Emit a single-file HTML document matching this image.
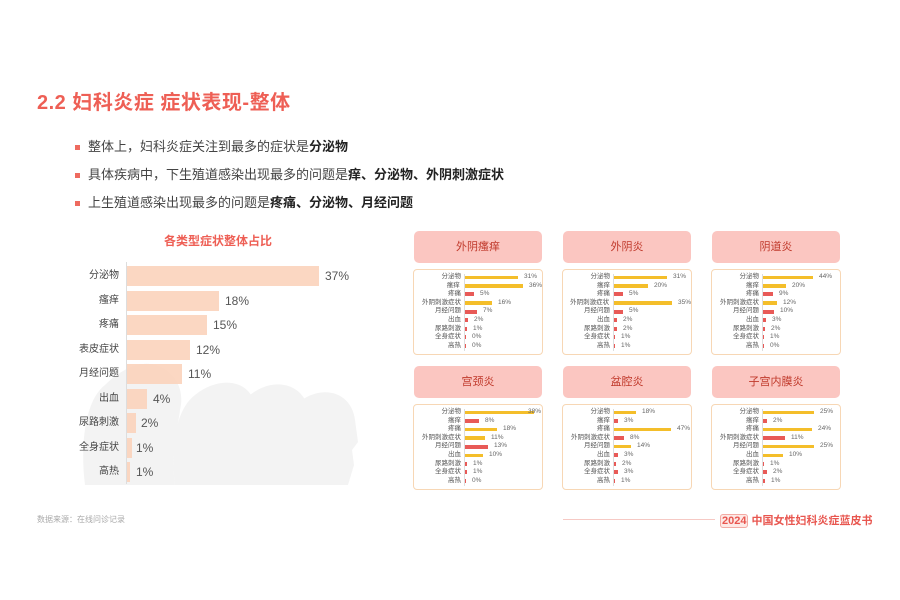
<!DOCTYPE html>
<html><head><meta charset="utf-8"><style>
*{margin:0;padding:0;box-sizing:border-box}
body{width:900px;height:600px;background:#fff;position:relative;overflow:hidden;font-family:"Liberation Sans","Noto Sans CJK SC",sans-serif;color:#444}
.a{position:absolute}
h1{position:absolute;left:37px;top:86px;font-size:20px;color:#ee5f55;font-weight:bold;letter-spacing:0.5px}
.bl{position:absolute;left:75px;font-size:13px;color:#444}
.bl i{display:inline-block;width:5px;height:5px;background:#ee6a5f;margin-right:8px;vertical-align:middle}
.bl b{color:#222}
.mr{position:absolute;left:0;height:20px;line-height:20px;font-size:10px}
.mr .l{position:absolute;right:781px;width:80px;text-align:right;color:#444}
.mr .b{position:absolute;left:127px;top:0;height:20px;background:#fbd3bb;opacity:.9}
.mr .v{position:absolute;font-size:12px;color:#555}
.hd{position:absolute;width:128px;height:32px;background:#fbc6c1;border-radius:5px;text-align:center;line-height:32px;font-size:11px;color:#c0392b}
.bx{position:absolute;width:130px;height:86px;border:1.5px solid #f7d7b5;border-radius:4px;padding-top:3px}
.bx .ax{position:absolute;left:50px;top:4px;height:77px;border-left:1px solid #ddd}
.rw{display:flex;align-items:center;height:8.6px;font-size:6.5px;line-height:8.6px;color:#555;white-space:nowrap}
.rw .l{width:47px;text-align:right;margin-right:4px}
.rw .y{height:3.5px;background:#f4be2a}
.rw .r{height:4px;background:#e85a57}
.rw .v{margin-left:6px;color:#666}
</style></head><body>
<h1>2.2 妇科炎症 症状表现-整体</h1>
<div class="bl" style="top:136px"><i></i>整体上，妇科炎症关注到最多的症状是<b>分泌物</b></div>
<div class="bl" style="top:164px"><i></i>具体疾病中，下生殖道感染出现最多的问题是<b>痒、分泌物、外阴刺激症状</b></div>
<div class="bl" style="top:192px"><i></i>上生殖道感染出现最多的问题是<b>疼痛、分泌物、月经问题</b></div>

<div class="a" style="left:130px;top:232px;width:176px;text-align:center;font-size:12px;font-weight:bold;color:#ee5f55">各类型症状整体占比</div>

<svg class="a" style="left:80px;top:350px" width="280" height="135">
<g fill="#f3f3f3">
<path d="M5 135 C0 95 5 50 25 35 C40 20 60 10 75 15 C95 20 105 40 100 60 C98 80 90 95 95 135Z"/>
<path d="M95 135 C90 100 95 60 115 45 C140 25 170 30 175 55 L178 80 L170 90 L172 110 L160 135Z"/>
<path d="M150 135 C145 100 150 60 170 45 C195 25 225 35 228 60 L232 85 L224 95 L226 112 L215 135Z"/>
<path d="M205 135 C200 100 205 60 225 48 C248 35 272 45 275 70 L278 92 L272 100 L274 115 L268 135Z"/>
</g></svg>
<div class="a" style="left:126px;top:262px;height:222px;border-left:1px solid #ddd"></div>

<div class="mr" style="top:266px;width:900px"><span class="l">分泌物</span><span class="b" style="width:192px"></span><span class="v" style="left:325px">37%</span></div>
<div class="mr" style="top:291px;width:900px"><span class="l">瘙痒</span><span class="b" style="width:92px"></span><span class="v" style="left:225px">18%</span></div>
<div class="mr" style="top:315px;width:900px"><span class="l">疼痛</span><span class="b" style="width:80px"></span><span class="v" style="left:213px">15%</span></div>
<div class="mr" style="top:340px;width:900px"><span class="l">表皮症状</span><span class="b" style="width:63px"></span><span class="v" style="left:196px">12%</span></div>
<div class="mr" style="top:364px;width:900px"><span class="l">月经问题</span><span class="b" style="width:55px"></span><span class="v" style="left:188px">11%</span></div>
<div class="mr" style="top:389px;width:900px"><span class="l">出血</span><span class="b" style="width:20px"></span><span class="v" style="left:153px">4%</span></div>
<div class="mr" style="top:413px;width:900px"><span class="l">尿路刺激</span><span class="b" style="width:9px"></span><span class="v" style="left:141px">2%</span></div>
<div class="mr" style="top:438px;width:900px"><span class="l">全身症状</span><span class="b" style="width:5px"></span><span class="v" style="left:136px">1%</span></div>
<div class="mr" style="top:462px;width:900px"><span class="l">高热</span><span class="b" style="width:3px"></span><span class="v" style="left:136px">1%</span></div>

<div class="hd" style="left:414px;top:231px">外阴瘙痒</div>
<div class="hd" style="left:563px;top:231px">外阴炎</div>
<div class="hd" style="left:712px;top:231px">阴道炎</div>
<div class="hd" style="left:414px;top:366px">宫颈炎</div>
<div class="hd" style="left:563px;top:366px">盆腔炎</div>
<div class="hd" style="left:712px;top:366px">子宫内膜炎</div>

<div class="bx" style="left:413px;top:269px"><div class="ax"></div>
<div class="rw"><span class="l">分泌物</span><span class="y" style="width:53px"></span><span class="v">31%</span></div>
<div class="rw"><span class="l">瘙痒</span><span class="y" style="width:61px"></span><span class="v">36%</span></div>
<div class="rw"><span class="l">疼痛</span><span class="r" style="width:9px"></span><span class="v">5%</span></div>
<div class="rw"><span class="l">外阴刺激症状</span><span class="y" style="width:27px"></span><span class="v">16%</span></div>
<div class="rw"><span class="l">月经问题</span><span class="r" style="width:12px"></span><span class="v">7%</span></div>
<div class="rw"><span class="l">出血</span><span class="r" style="width:3px"></span><span class="v">2%</span></div>
<div class="rw"><span class="l">尿路刺激</span><span class="r" style="width:2px"></span><span class="v">1%</span></div>
<div class="rw"><span class="l">全身症状</span><span class="r" style="width:1px"></span><span class="v">0%</span></div>
<div class="rw"><span class="l">高热</span><span class="r" style="width:1px"></span><span class="v">0%</span></div>
</div>

<div class="bx" style="left:562px;top:269px"><div class="ax"></div>
<div class="rw"><span class="l">分泌物</span><span class="y" style="width:53px"></span><span class="v">31%</span></div>
<div class="rw"><span class="l">瘙痒</span><span class="y" style="width:34px"></span><span class="v">20%</span></div>
<div class="rw"><span class="l">疼痛</span><span class="r" style="width:9px"></span><span class="v">5%</span></div>
<div class="rw"><span class="l">外阴刺激症状</span><span class="y" style="width:60px"></span><span class="v">35%</span></div>
<div class="rw"><span class="l">月经问题</span><span class="r" style="width:9px"></span><span class="v">5%</span></div>
<div class="rw"><span class="l">出血</span><span class="r" style="width:3px"></span><span class="v">2%</span></div>
<div class="rw"><span class="l">尿路刺激</span><span class="r" style="width:3px"></span><span class="v">2%</span></div>
<div class="rw"><span class="l">全身症状</span><span class="r" style="width:1px"></span><span class="v">1%</span></div>
<div class="rw"><span class="l">高热</span><span class="r" style="width:1px"></span><span class="v">1%</span></div>
</div>

<div class="bx" style="left:711px;top:269px"><div class="ax"></div>
<div class="rw"><span class="l">分泌物</span><span class="y" style="width:50px"></span><span class="v">44%</span></div>
<div class="rw"><span class="l">瘙痒</span><span class="y" style="width:23px"></span><span class="v">20%</span></div>
<div class="rw"><span class="l">疼痛</span><span class="r" style="width:10px"></span><span class="v">9%</span></div>
<div class="rw"><span class="l">外阴刺激症状</span><span class="y" style="width:14px"></span><span class="v">12%</span></div>
<div class="rw"><span class="l">月经问题</span><span class="r" style="width:11px"></span><span class="v">10%</span></div>
<div class="rw"><span class="l">出血</span><span class="r" style="width:3px"></span><span class="v">3%</span></div>
<div class="rw"><span class="l">尿路刺激</span><span class="r" style="width:2px"></span><span class="v">2%</span></div>
<div class="rw"><span class="l">全身症状</span><span class="r" style="width:1px"></span><span class="v">1%</span></div>
<div class="rw"><span class="l">高热</span><span class="r" style="width:1px"></span><span class="v">0%</span></div>
</div>

<div class="bx" style="left:413px;top:404px"><div class="ax"></div>
<div class="rw"><span class="l">分泌物</span><span class="y" style="width:69px"></span><span class="v" style="margin-left:-6px">38%</span></div>
<div class="rw"><span class="l">瘙痒</span><span class="r" style="width:14px"></span><span class="v">8%</span></div>
<div class="rw"><span class="l">疼痛</span><span class="y" style="width:32px"></span><span class="v">18%</span></div>
<div class="rw"><span class="l">外阴刺激症状</span><span class="y" style="width:20px"></span><span class="v">11%</span></div>
<div class="rw"><span class="l">月经问题</span><span class="r" style="width:23px"></span><span class="v">13%</span></div>
<div class="rw"><span class="l">出血</span><span class="y" style="width:18px"></span><span class="v">10%</span></div>
<div class="rw"><span class="l">尿路刺激</span><span class="r" style="width:2px"></span><span class="v">1%</span></div>
<div class="rw"><span class="l">全身症状</span><span class="r" style="width:2px"></span><span class="v">1%</span></div>
<div class="rw"><span class="l">高热</span><span class="r" style="width:1px"></span><span class="v">0%</span></div>
</div>

<div class="bx" style="left:562px;top:404px"><div class="ax"></div>
<div class="rw"><span class="l">分泌物</span><span class="y" style="width:22px"></span><span class="v">18%</span></div>
<div class="rw"><span class="l">瘙痒</span><span class="r" style="width:4px"></span><span class="v">3%</span></div>
<div class="rw"><span class="l">疼痛</span><span class="y" style="width:57px"></span><span class="v">47%</span></div>
<div class="rw"><span class="l">外阴刺激症状</span><span class="r" style="width:10px"></span><span class="v">8%</span></div>
<div class="rw"><span class="l">月经问题</span><span class="y" style="width:17px"></span><span class="v">14%</span></div>
<div class="rw"><span class="l">出血</span><span class="r" style="width:4px"></span><span class="v">3%</span></div>
<div class="rw"><span class="l">尿路刺激</span><span class="r" style="width:2px"></span><span class="v">2%</span></div>
<div class="rw"><span class="l">全身症状</span><span class="r" style="width:4px"></span><span class="v">3%</span></div>
<div class="rw"><span class="l">高热</span><span class="r" style="width:1px"></span><span class="v">1%</span></div>
</div>

<div class="bx" style="left:711px;top:404px"><div class="ax"></div>
<div class="rw"><span class="l">分泌物</span><span class="y" style="width:51px"></span><span class="v">25%</span></div>
<div class="rw"><span class="l">瘙痒</span><span class="r" style="width:4px"></span><span class="v">2%</span></div>
<div class="rw"><span class="l">疼痛</span><span class="y" style="width:49px"></span><span class="v">24%</span></div>
<div class="rw"><span class="l">外阴刺激症状</span><span class="r" style="width:22px"></span><span class="v">11%</span></div>
<div class="rw"><span class="l">月经问题</span><span class="y" style="width:51px"></span><span class="v">25%</span></div>
<div class="rw"><span class="l">出血</span><span class="y" style="width:20px"></span><span class="v">10%</span></div>
<div class="rw"><span class="l">尿路刺激</span><span class="r" style="width:1px"></span><span class="v">1%</span></div>
<div class="rw"><span class="l">全身症状</span><span class="r" style="width:4px"></span><span class="v">2%</span></div>
<div class="rw"><span class="l">高热</span><span class="r" style="width:2px"></span><span class="v">1%</span></div>
</div>

<div class="a" style="left:37px;top:514px;font-size:8px;color:#aaa">数据来源：在线问诊记录</div>
<div class="a" style="left:563px;top:519px;width:152px;border-top:1px solid #f6c9c4"></div>
<div class="a" style="left:720px;top:512px;font-size:11px;font-weight:bold;color:#e8564f;white-space:nowrap"><span style="border:1px solid #f3aaa3;border-radius:3px;padding:0 1px;background:#fde9e6">2024</span> 中国女性妇科炎症蓝皮书</div>
</body></html>
